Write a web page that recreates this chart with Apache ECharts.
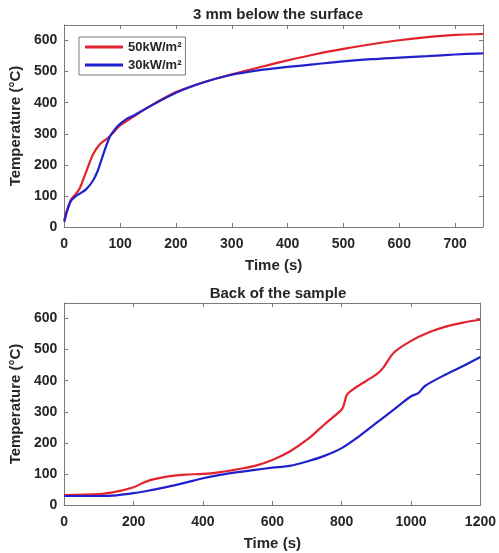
<!DOCTYPE html>
<html>
<head>
<meta charset="utf-8">
<script src="https://cdn.jsdelivr.net/npm/echarts@6/dist/echarts.min.js"></script>
<style>
  html, body { margin: 0; padding: 0; background: #fff; }
  #chart { width: 499px; height: 553px; }
</style>
</head>
<body>
<div id="chart"></div>
<script>
// Temperature histories (time in s, temperature in °C)
const surfaceTime50 = [0, 5, 12, 20, 27, 35, 42, 51, 63, 79, 91, 100, 124, 150, 200, 250, 300, 350, 400, 450, 500, 550, 600, 650, 700, 750];
const surfaceTemp50 = [22, 55, 88, 105, 122, 158, 191, 232, 265, 288, 310, 327, 355, 385, 434, 466, 491, 514, 536, 556, 573, 588, 601, 611, 618, 621];
const surfaceTime30 = [0, 5, 12, 21, 30, 39, 51, 60, 69, 81, 91, 100, 112, 124, 150, 200, 250, 300, 350, 400, 450, 500, 550, 600, 650, 700, 750];
const surfaceTemp30 = [17, 50, 84, 100, 110, 121, 148, 181, 229, 288, 315, 332, 348, 358, 385, 432, 466, 490, 505, 515, 524, 533, 540, 545, 550, 555, 559];

const backTime50 = [0, 100, 150, 200, 225, 250, 300, 350, 400, 450, 500, 550, 600, 650, 700, 750, 800, 805, 815, 830, 850, 900, 920, 950, 1000, 1050, 1100, 1150, 1200];
const backTemp50 = [32, 35, 43, 57, 70, 81, 92, 98, 100, 106, 115, 126, 145, 172, 210, 259, 307, 318, 355, 370, 385, 420, 442, 490, 528, 555, 574, 587, 596];
const backTime30 = [0, 100, 150, 200, 250, 300, 350, 400, 450, 500, 550, 600, 650, 700, 750, 800, 850, 900, 950, 1000, 1020, 1040, 1100, 1150, 1200];
const backTemp30 = [29, 29, 31, 38, 48, 59, 72, 86, 97, 106, 113, 120, 126, 140, 158, 183, 221, 264, 307, 350, 359, 383, 420, 447, 476];

const surfaceTicks = [0, 100, 200, 300, 400, 500, 600, 700];
const backTicks = [0, 200, 400, 600, 800, 1000, 1200];
const tempTicks = [0, 100, 200, 300, 400, 500, 600];

const seriesNames = ['50kW/m\u00b2', '30kW/m\u00b2'];
const titles = ['3 mm below the surface', 'Back of the sample'];

const RED = '#e3232b';
const BLUE = '#2020cc';
const FONT = '"Liberation Sans", Arial, sans-serif';
const TEXT = '#262626';
const BOX = '#7a7a7a';

function pairs(xs, ys) { return xs.map((x, i) => [x, ys[i]]); }

function boxAxisBase(gridIndex) {
  return {
    gridIndex, type: 'value',
    splitLine: { show: false },
    axisLine: { show: true, onZero: false, lineStyle: { color: BOX, width: 1 } },
    axisTick: { show: true, inside: true, length: 4, lineStyle: { color: BOX } }
  };
}

function xAxisPair(gridIndex, max, interval, ticks) {
  const base = Object.assign(boxAxisBase(gridIndex), { min: 0, max, interval });
  return [
    Object.assign({}, base, {
      position: 'bottom',
      name: 'Time (s)', nameLocation: 'middle', nameGap: 31,
      nameTextStyle: { color: TEXT, fontFamily: FONT, fontWeight: 'bold', fontSize: 15 },
      axisLabel: {
        color: TEXT, fontFamily: FONT, fontWeight: 'bold', fontSize: 14, margin: 10,
        formatter: v => ticks.includes(v) ? String(v) : ''
      }
    }),
    Object.assign({}, base, { position: 'top', axisLabel: { show: false } })
  ];
}

function yAxisPair(gridIndex) {
  const base = Object.assign(boxAxisBase(gridIndex), { min: 0, max: 650, interval: 100 });
  return [
    Object.assign({}, base, {
      position: 'left',
      name: 'Temperature (\u00b0C)', nameLocation: 'middle', nameGap: 29,
      nameTextStyle: { color: TEXT, fontFamily: FONT, fontWeight: 'bold', fontSize: 15 },
      axisLabel: {
        color: TEXT, fontFamily: FONT, fontWeight: 'bold', fontSize: 14, margin: 7,
        formatter: v => tempTicks.includes(v) ? String(v) : ''
      }
    }),
    Object.assign({}, base, { position: 'right', axisLabel: { show: false } })
  ];
}

function line(name, data, color, xi, yi) {
  return {
    name, type: 'line', data, xAxisIndex: xi, yAxisIndex: yi,
    smooth: 0.3, showSymbol: false, symbol: 'none',
    lineStyle: { color, width: 2.2 }, itemStyle: { color },
    animation: false
  };
}

const chart = echarts.init(document.getElementById('chart'), null, { renderer: 'canvas' });
chart.setOption({
  backgroundColor: '#fff',
  animation: false,
  title: [
    { text: titles[0], left: 273, top: 2, textAlign: 'center',
      textStyle: { color: TEXT, fontFamily: FONT, fontWeight: 'bold', fontSize: 15 } },
    { text: titles[1], left: 273, top: 281, textAlign: 'center',
      textStyle: { color: TEXT, fontFamily: FONT, fontWeight: 'bold', fontSize: 15 } }
  ],
  legend: {
    data: seriesNames,
    orient: 'vertical',
    left: 79, top: 37,
    padding: [3, 4, 3, 6],
    itemGap: 4,
    icon: 'rect',
    itemWidth: 38, itemHeight: 3,
    borderColor: BOX, borderWidth: 1,
    backgroundColor: '#fff',
    textStyle: { color: TEXT, fontFamily: FONT, fontWeight: 'bold', fontSize: 13, lineHeight: 14 }
  },
  grid: [
    { left: 63, right: 16, top: 25, height: 202 },
    { left: 63, right: 16, top: 303, height: 202 }
  ],
  xAxis: [].concat(
    xAxisPair(0, 750, 100, surfaceTicks),
    xAxisPair(1, 1200, 200, backTicks)
  ),
  yAxis: [].concat(yAxisPair(0), yAxisPair(1)),
  series: [
    line(seriesNames[0], pairs(surfaceTime50, surfaceTemp50), RED, 0, 0),
    line(seriesNames[1], pairs(surfaceTime30, surfaceTemp30), BLUE, 0, 0),
    line(seriesNames[0], pairs(backTime50, backTemp50), RED, 2, 2),
    line(seriesNames[1], pairs(backTime30, backTemp30), BLUE, 2, 2)
  ]
});
</script>
</body>
</html>
